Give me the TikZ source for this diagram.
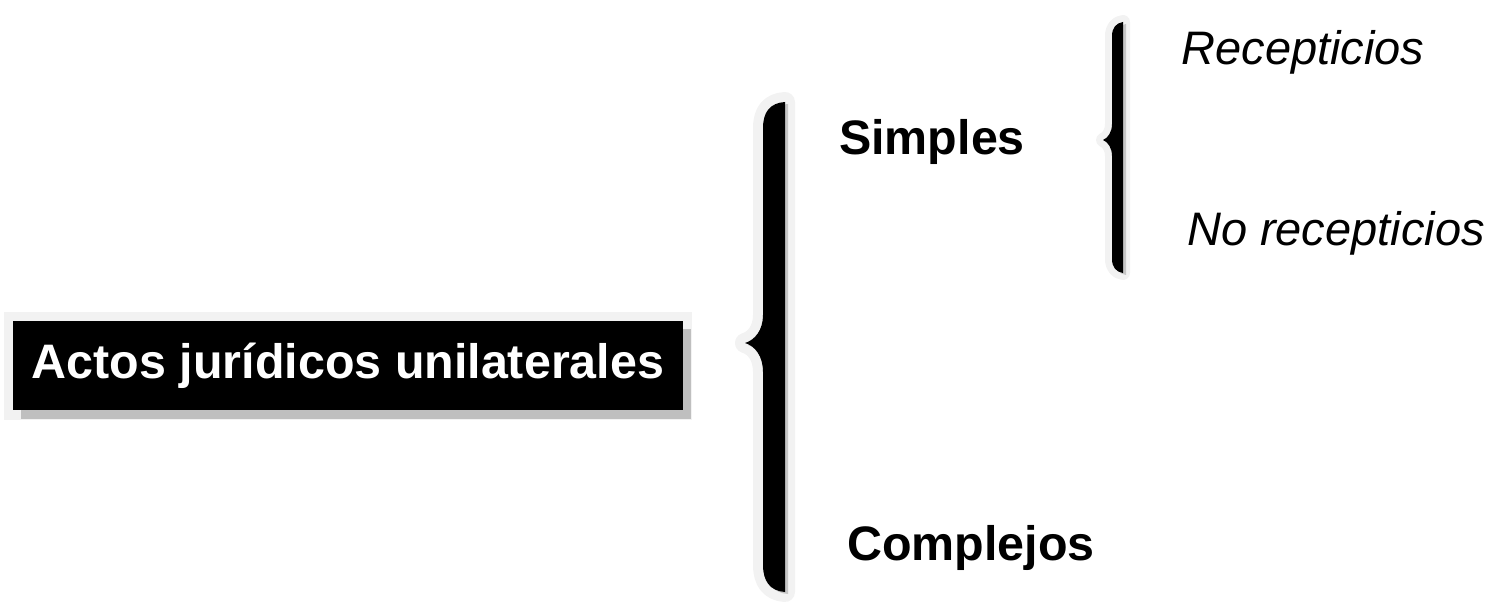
\documentclass[tikz,border=0pt]{standalone}
\usepackage{fontspec}
\setmainfont{Liberation Sans}
\usetikzlibrary{shadows}

\begin{document}
\begin{tikzpicture}[
x=0.5pt, y=-0.5pt,
titlebox/.style={
fill=black,
text=white,
font=\fontsize{24.2}{29}\selectfont\bfseries,
minimum width=335pt,
minimum height=44.5pt,
inner sep=0 pt,
preaction={draw=gray!10, line width=9pt},
drop shadow={fill=gray!50, shadow xshift=4pt, shadow yshift=-4pt, opacity=1},
},
classnode/.style={font=\fontsize{24.2}{29}\selectfont\bfseries, anchor=base, inner sep=0 pt},
kindnode/.style={font=\fontsize{23.5}{28}\selectfont\itshape, anchor=base, inner sep=0 pt},
bracefill/.style={
fill=black,
preaction={draw=gray!10, line width=#1, line join=round},
preaction={fill=gray!45, transform canvas={xshift=1.5pt, yshift=-1pt}},
},
]
\useasboundingbox (0,0) rectangle (1507,603);

% main box
\node [titlebox] at (348,366) (acts) {Actos jurídicos unilaterales};

% first brace
\fill[bracefill=10pt] (785,102) .. controls (770,103) and (763,112) .. (763,128)
-- (763,315) .. controls (763,330) and (755,340) .. (745,343)
.. controls (755,346) and (763,356) .. (763,372)
-- (763,565) .. controls (763,581) and (770,591) .. (785,592) -- cycle;

\node [classnode] at (932,155) (simples) {Simples};
\node [classnode] at (971,560) (complejos) {Complejos};

% second brace
\fill[bracefill=7pt] (1123,22) .. controls (1116,23) and (1112,28) .. (1112,36)
-- (1112,124) .. controls (1112,132) and (1108,138) .. (1103,140)
.. controls (1108,142) and (1112,148) .. (1112,156)
-- (1112,259) .. controls (1112,267) and (1116,272) .. (1123,273) -- cycle;

\node [kindnode] at (1303,65) (recep) {Recepticios};
\node [kindnode] at (1336,246) (norecep) {No recepticios};

\end{tikzpicture}
\end{document}
